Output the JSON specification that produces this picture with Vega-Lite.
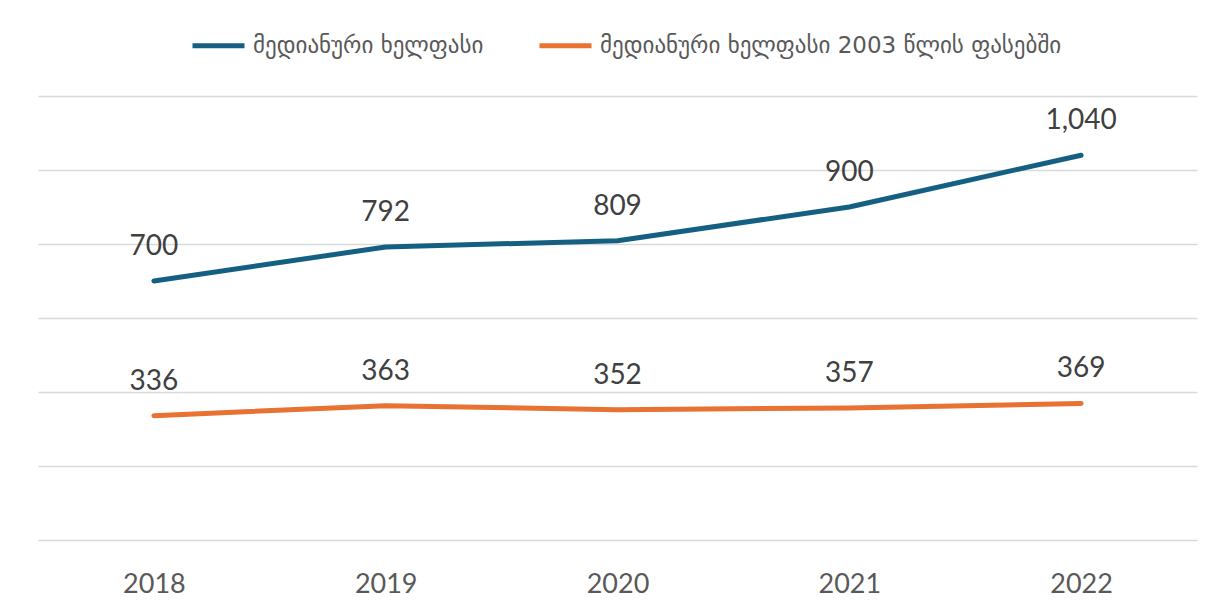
{
  "$schema": "https://vega.github.io/schema/vega-lite/v6.json",
  "width": 1159,
  "height": 444,
  "autosize": {"type": "none"},
  "padding": {"left": 38, "top": 96, "right": 22, "bottom": 72},
  "background": "white",
  "config": {"view": {"stroke": null}},
  "data": {
    "values": [
      {"year": "2018", "series": "მედიანური ხელფასი", "value": 700},
      {"year": "2019", "series": "მედიანური ხელფასი", "value": 792},
      {"year": "2020", "series": "მედიანური ხელფასი", "value": 809},
      {"year": "2021", "series": "მედიანური ხელფასი", "value": 900},
      {"year": "2022", "series": "მედიანური ხელფასი", "value": 1040},
      {"year": "2018", "series": "მედიანური ხელფასი 2003 წლის ფასებში", "value": 336},
      {"year": "2019", "series": "მედიანური ხელფასი 2003 წლის ფასებში", "value": 363},
      {"year": "2020", "series": "მედიანური ხელფასი 2003 წლის ფასებში", "value": 352},
      {"year": "2021", "series": "მედიანური ხელფასი 2003 წლის ფასებში", "value": 357},
      {"year": "2022", "series": "მედიანური ხელფასი 2003 წლის ფასებში", "value": 369}
    ]
  },
  "encoding": {
    "x": {
      "field": "year",
      "type": "ordinal",
      "scale": {"type": "point", "padding": 0.5},
      "axis": {
        "title": null,
        "domain": false,
        "ticks": false,
        "labelAngle": 0,
        "labelFont": "Lato",
        "labelFontSize": 27,
        "labelColor": "#595959",
        "labelBaseline": "alphabetic",
        "labelPadding": 52
      }
    },
    "y": {
      "field": "value",
      "type": "quantitative",
      "scale": {"domain": [0, 1200], "nice": false},
      "axis": {
        "title": null,
        "labels": false,
        "ticks": false,
        "domain": false,
        "values": [0, 200, 400, 600, 800, 1000, 1200],
        "gridColor": "#D9D9D9",
        "gridWidth": 1.5
      }
    },
    "color": {
      "field": "series",
      "type": "nominal",
      "scale": {
        "domain": ["მედიანური ხელფასი", "მედიანური ხელფასი 2003 წლის ფასებში"],
        "range": ["#156082", "#E97132"]
      },
      "legend": {
        "title": null,
        "orient": "none",
        "direction": "horizontal",
        "legendX": 152,
        "legendY": -79,
        "symbolType": "stroke",
        "symbolStrokeWidth": 5,
        "symbolSize": 2704,
        "labelFont": "DejaVu Sans",
        "labelFontSize": 23,
        "labelColor": "#595959",
        "labelOffset": 6,
        "labelLimit": 1000,
        "columnPadding": 45
      }
    }
  },
  "layer": [
    {
      "mark": {"type": "line", "strokeWidth": 5, "strokeCap": "round", "strokeJoin": "round"}
    },
    {
      "mark": {"type": "text", "dy": -26, "baseline": "alphabetic", "font": "Lato", "fontSize": 28, "color": "#404040"},
      "encoding": {
        "text": {"field": "value", "type": "quantitative", "format": ",.0f"},
        "color": {"value": "#404040"}
      }
    }
  ]
}
